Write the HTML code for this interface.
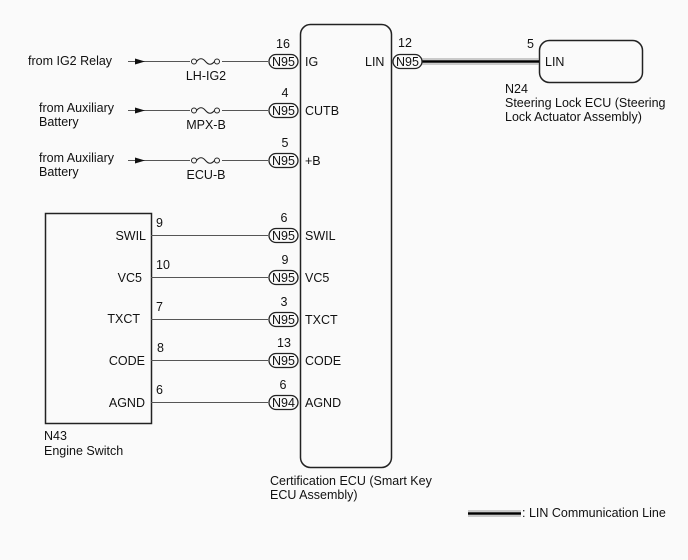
<!DOCTYPE html>
<html><head><style>
html,body{margin:0;padding:0;background:#fafafa;}
svg{display:block;}
text{font-family:"Liberation Sans",sans-serif;font-size:12.5px;fill:#111;}
</style></head><body>
<svg width="688" height="560" viewBox="0 0 688 560" xmlns="http://www.w3.org/2000/svg">
<rect x="0" y="0" width="688" height="560" fill="#fafafa"/>
<rect x="300.5" y="24.5" width="91" height="443" rx="10" fill="none" stroke="#222" stroke-width="1.5"/>
<rect x="539.5" y="40.5" width="103" height="42" rx="10" fill="none" stroke="#222" stroke-width="1.5"/>
<rect x="45.5" y="213.5" width="106" height="210" fill="none" stroke="#222" stroke-width="1.5"/>

<g stroke="#555" stroke-width="1" fill="none">
<line x1="128" y1="61.5" x2="268" y2="61.5"/>
<line x1="128" y1="110.5" x2="268" y2="110.5"/>
<line x1="128" y1="160.5" x2="268" y2="160.5"/>
<line x1="151" y1="235.5" x2="268" y2="235.5"/>
<line x1="151" y1="277.5" x2="268" y2="277.5"/>
<line x1="151" y1="319.5" x2="268" y2="319.5"/>
<line x1="151" y1="360.5" x2="268" y2="360.5"/>
<line x1="151" y1="402.5" x2="268" y2="402.5"/>
</g>
<g fill="#111">
<polygon points="135,58.5 145,61.5 135,64.5"/>
<polygon points="135,107.5 145,110.5 135,113.5"/>
<polygon points="135,157.5 145,160.5 135,163.5"/>
</g>
<g stroke="#222" stroke-width="1" fill="#fafafa">
<rect x="190" y="57" width="32" height="9" fill="#fafafa" stroke="none"/>
<rect x="190" y="106" width="32" height="9" fill="#fafafa" stroke="none"/>
<rect x="190" y="156" width="32" height="9" fill="#fafafa" stroke="none"/>
<circle cx="194" cy="61.5" r="2.5"/><circle cx="217" cy="61.5" r="2.5"/>
<path d="M196.5 61.5 Q201 56 205.5 61.5 Q210 67 214.5 61.5" fill="none"/>
<circle cx="194" cy="110.5" r="2.5"/><circle cx="217" cy="110.5" r="2.5"/>
<path d="M196.5 110.5 Q201 105 205.5 110.5 Q210 116 214.5 110.5" fill="none"/>
<circle cx="194" cy="160.5" r="2.5"/><circle cx="217" cy="160.5" r="2.5"/>
<path d="M196.5 160.5 Q201 155 205.5 160.5 Q210 166 214.5 160.5" fill="none"/>
</g>
<line x1="420" y1="59" x2="539" y2="59" stroke="#999" stroke-width="1"/>
<line x1="420" y1="61.5" x2="539" y2="61.5" stroke="#000" stroke-width="2.5"/>
<line x1="420" y1="64" x2="539" y2="64" stroke="#999" stroke-width="1"/>
<line x1="468" y1="511" x2="521" y2="511" stroke="#999" stroke-width="1"/>
<line x1="468" y1="513.5" x2="521" y2="513.5" stroke="#000" stroke-width="2.5"/>
<line x1="468" y1="516" x2="521" y2="516" stroke="#999" stroke-width="1"/>

<g stroke="#222" stroke-width="1.3" fill="#fafafa">
<rect x="269" y="54.5" width="29" height="14" rx="7"/>
<rect x="269" y="103.5" width="29" height="14" rx="7"/>
<rect x="269" y="153.5" width="29" height="14" rx="7"/>
<rect x="269" y="228.5" width="29" height="14" rx="7"/>
<rect x="269" y="270.5" width="29" height="14" rx="7"/>
<rect x="269" y="312.5" width="29" height="14" rx="7"/>
<rect x="269" y="353.5" width="29" height="14" rx="7"/>
<rect x="269" y="395.5" width="29" height="14" rx="7"/>
<rect x="393" y="54.5" width="29" height="14" rx="7"/>
</g>
<g text-anchor="middle">
<text x="283.5" y="66">N95</text><text x="283.5" y="115">N95</text><text x="283.5" y="165">N95</text>
<text x="283.5" y="240">N95</text><text x="283.5" y="282">N95</text><text x="283.5" y="324">N95</text>
<text x="283.5" y="365">N95</text><text x="283.5" y="407">N94</text><text x="407.5" y="66">N95</text>
<text x="283" y="48">16</text><text x="285" y="97">4</text><text x="285" y="147">5</text>
<text x="284" y="222">6</text><text x="285" y="264">9</text><text x="284" y="306">3</text>
<text x="284" y="347">13</text><text x="283" y="389">6</text>
<text x="206" y="80">LH-IG2</text><text x="206" y="129">MPX-B</text><text x="206" y="179">ECU-B</text>
</g>
<g>
<text x="305" y="66">IG</text><text x="305" y="115">CUTB</text><text x="305" y="165">+B</text>
<text x="305" y="240">SWIL</text><text x="305" y="282">VC5</text><text x="305" y="324">TXCT</text>
<text x="305" y="365">CODE</text><text x="305" y="407">AGND</text>
<text x="365" y="66">LIN</text><text x="398" y="47">12</text>
<text x="527" y="48">5</text><text x="545" y="66">LIN</text>
<text x="505" y="93">N24</text>
<text x="505" y="107">Steering Lock ECU (Steering</text>
<text x="505" y="121">Lock Actuator Assembly)</text>
<text x="28" y="65">from IG2 Relay</text>
<text x="39" y="112">from Auxiliary</text><text x="39" y="126">Battery</text>
<text x="39" y="162">from Auxiliary</text><text x="39" y="176">Battery</text>
<text x="156" y="227">9</text><text x="156" y="269">10</text><text x="156" y="311">7</text>
<text x="157" y="352">8</text><text x="156" y="394">6</text>
<text x="44" y="440">N43</text><text x="44" y="455">Engine Switch</text>
<text x="270" y="485">Certification ECU (Smart Key</text>
<text x="270" y="499">ECU Assembly)</text>
<text x="522" y="517">: LIN Communication Line</text>
</g>
<g text-anchor="end">
<text x="146" y="240">SWIL</text><text x="142" y="282">VC5</text><text x="140" y="323">TXCT</text>
<text x="145" y="365">CODE</text><text x="145" y="407">AGND</text>
</g>
</svg>
</body></html>
